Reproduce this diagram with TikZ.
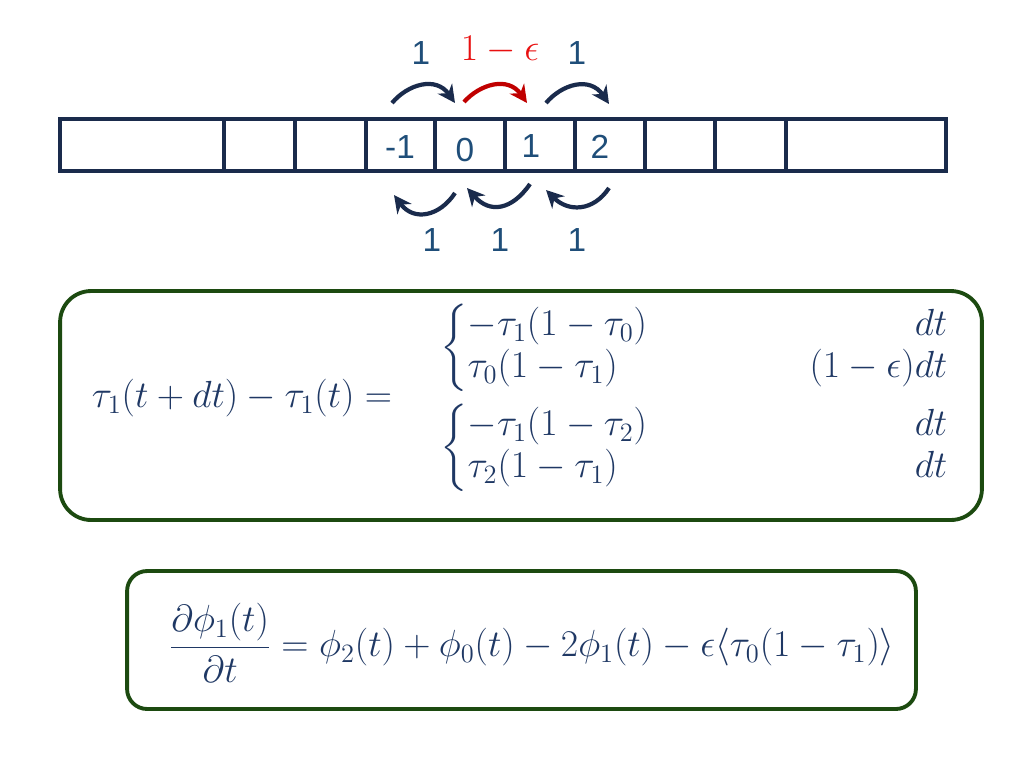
\RequirePackage{fix-cm}
\documentclass[tikz,border=0pt]{standalone}
\usepackage{amsmath}
\usepackage{fontspec}
\setsansfont{Liberation Sans}
\usetikzlibrary{arrows.meta}

\definecolor{navy}{HTML}{1A2B4C}
\definecolor{mathblue}{HTML}{1F3864}
\definecolor{numblue}{HTML}{1F4E79}
\definecolor{hopred}{HTML}{C00000}
\definecolor{epsred}{HTML}{E81010}
\definecolor{boxgreen}{HTML}{1C4A10}

\newcommand{\caserow}[2]{\makebox[193pt][l]{$#1$} & \makebox[80pt][r]{$#2$}}

\begin{document}
\begin{tikzpicture}[x=0.02cm, y=-0.02cm,
	cell/.style={draw=navy, line width=2pt, minimum height=1.04cm, inner sep=0pt},
	num/.style={font=\fontsize{19}{23}\selectfont\sffamily, text=numblue},
	hop/.style={draw=navy, line width=2.4pt, -{Stealth[length=10pt,width=10pt]}},
	eqbox/.style={draw=boxgreen, line width=2.2pt, inner sep=0pt},
	eq/.style={font=\fontsize{21.5}{24}\selectfont, text=mathblue}]

			\useasboundingbox (0,0) rectangle (1024,768);

			\node[cell, minimum width=3.28cm] (cL) at (142,145) {};
			\node[cell, minimum width=1.42cm] (cm3) at (259.5,145) {};
			\node[cell, minimum width=1.42cm] (cm2) at (330.5,145) {};
			\node[cell, minimum width=1.38cm] (cm1) at (400.5,145) {};
			\node[cell, minimum width=1.40cm] (c0) at (470,145) {};
			\node[cell, minimum width=1.40cm] (c1) at (540,145) {};
			\node[cell, minimum width=1.40cm] (c2) at (610,145) {};
			\node[cell, minimum width=1.40cm] (c3) at (680,145) {};
			\node[cell, minimum width=1.42cm] (c4) at (750.5,145) {};
			\node[cell, minimum width=3.20cm] (cR) at (866,145) {};

				\node[num] (lm1) at (400,147) {-1};
				\node[num] (l0) at (465,150) {0};
				\node[num] (l1) at (531,146) {1};
				\node[num] (l2) at (600,147) {2};

			\coordinate (r1s) at (392,103);
			\coordinate (r1e) at (455,103);
			\coordinate (r2s) at (464,102);
			\coordinate (r2e) at (527,103);
			\coordinate (r3s) at (546,103);
			\coordinate (r3e) at (609,104);
				\draw[hop] (r1s) .. controls (408,84) and (436,76) .. (r1e);
				\draw[hop, draw=hopred] (r2s) .. controls (480,84) and (508,76) .. (r2e);
				\draw[hop] (r3s) .. controls (562,84) and (590,76) .. (r3e);

			\coordinate (l1s) at (455,193);
			\coordinate (l1e) at (394,195);
			\coordinate (l2s) at (530,184);
			\coordinate (l2e) at (467,188);
			\coordinate (l3s) at (609,188);
			\coordinate (l3e) at (546,190);
				\draw[hop] (l1s) .. controls (440,216) and (414,222) .. (l1e);
				\draw[hop] (l2s) .. controls (512,210) and (490,214) .. (l2e);
				\draw[hop] (l3s) .. controls (593,212) and (568,212) .. (l3e);

			\node[num] (t1) at (421,53) {1};
			\node[eq, text=epsred] (t2) at (500,50) {$1-\epsilon$};
			\node[num] (t3) at (577,53) {1};
			\node[num] (b1) at (432,240) {1};
			\node[num] (b2) at (500,240) {1};
			\node[num] (b3) at (577,240) {1};

			\node[eqbox, rounded corners=0.62cm, minimum width=18.44cm, minimum height=4.58cm] (box1) at (521,405.5) {};
				\node[eq] (lhs) at (242,398) {$\tau_1(t+dt)-\tau_1(t)=$};
				\node[eq, anchor=west, inner sep=0pt] (caseA) at (440,348) {$\left\{\begin{array}{@{}l@{}r@{}}
					\caserow{-\tau_1(1-\tau_0)}{dt}\\
					\caserow{\tau_0(1-\tau_1)}{(1-\epsilon)dt}
				\end{array}\right.$};
				\node[eq, anchor=west, inner sep=0pt] (caseB) at (440,448) {$\left\{\begin{array}{@{}l@{}r@{}}
					\caserow{-\tau_1(1-\tau_2)}{dt}\\
					\caserow{\tau_2(1-\tau_1)}{dt}
				\end{array}\right.$};

			\node[eqbox, rounded corners=0.4cm, minimum width=15.78cm, minimum height=2.76cm] (box2) at (521.5,640) {};
				\node[eq] (rate) at (532,643) {$\dfrac{\partial\phi_1(t)}{\partial t}=\phi_2(t)+\phi_0(t)-2\phi_1(t)-\epsilon\langle\tau_0(1-\tau_1)\rangle$};

\end{tikzpicture}
\end{document}
